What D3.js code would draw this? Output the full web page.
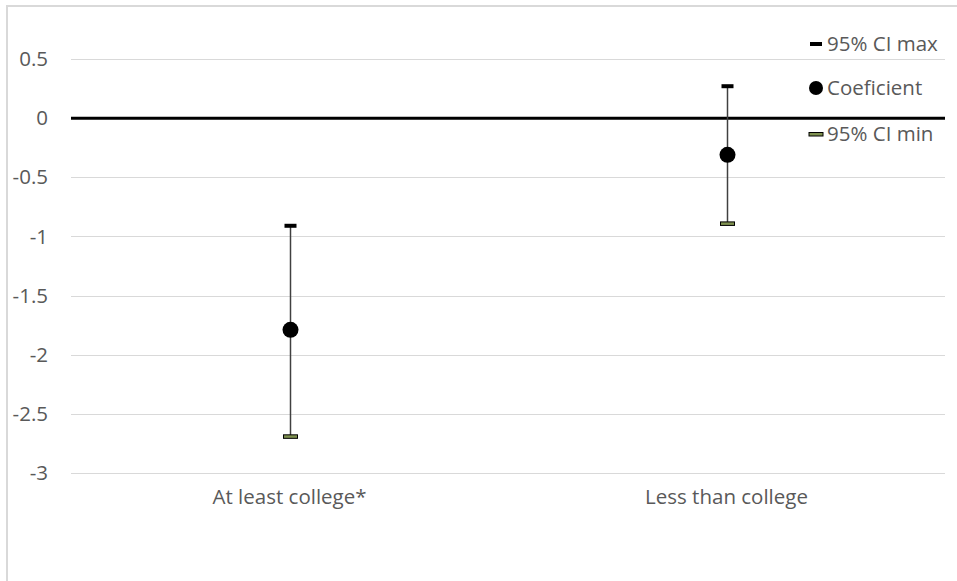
<!DOCTYPE html>
<html>
<head>
<meta charset="utf-8">
<script src="https://cdn.jsdelivr.net/npm/d3@7"></script>
<style>
  body { margin: 0; background: #fff; }
  text { font-family: "Open Sans", sans-serif; }
</style>
</head>
<body>
<div id="chart"></div>
<script>
// Data
const categories = ["At least college*", "Less than college"];
const ciMax = [-0.91, 0.27];
const coef = [-1.79, -0.31];
const ciMin = [-2.69, -0.89];
const yTicks = [0.5, 0, -0.5, -1, -1.5, -2, -2.5, -3];
const legendLabels = ["95% CI max", "Coeficient", "95% CI min"];

// Dimensions
const W = 957, H = 581;
const margin = { top: 59, right: 12, bottom: 108, left: 71 };
const width = W - margin.left - margin.right;
const fontSize = "20.5px";

const svg = d3.select("#chart")
    .append("svg")
    .attr("width", W)
    .attr("height", H);

// Chart border (runs past the right and bottom edges)
svg.append("rect")
    .attr("x", 7).attr("y", 6)
    .attr("width", 1000).attr("height", 700)
    .attr("fill", "none")
    .attr("stroke", "#d9d9d9")
    .attr("stroke-width", 2);

const g = svg.append("g")
    .attr("transform", `translate(${margin.left},${margin.top})`);

const x = d3.scaleBand()
    .domain(categories)
    .range([0, width]);

const y = d3.scaleLinear()
    .domain([-3, 0.5])
    .range([414, 0]);

// Gridlines
g.selectAll(".grid")
    .data(yTicks.filter(d => d !== 0))
    .enter()
    .append("line")
    .attr("x1", 0).attr("x2", width)
    .attr("y1", d => Math.round(y(d)) + 0.5)
    .attr("y2", d => Math.round(y(d)) + 0.5)
    .attr("stroke", "#d9d9d9")
    .attr("stroke-width", 1);

// Y tick labels
g.selectAll(".ylab")
    .data(yTicks)
    .enter()
    .append("text")
    .attr("x", -23)
    .attr("y", d => y(d))
    .attr("dy", "0.35em")
    .attr("text-anchor", "end")
    .style("font-size", fontSize)
    .style("fill", "#595959")
    .text(d => d);

// Zero line
g.append("line")
    .attr("x1", 0).attr("x2", width)
    .attr("y1", y(0)).attr("y2", y(0))
    .attr("stroke", "#000")
    .attr("stroke-width", 3);

// X category labels
g.selectAll(".xlab")
    .data(categories)
    .enter()
    .append("text")
    .attr("x", d => x(d) + x.bandwidth() / 2)
    .attr("y", y(-3) + 24)
    .attr("dy", "0.35em")
    .attr("text-anchor", "middle")
    .style("font-size", fontSize)
    .style("fill", "#595959")
    .text(d => d);

// Error bars
const cx = i => Math.round(x(categories[i]) + x.bandwidth() / 2) + 0.5;

g.selectAll(".whisker")
    .data(categories)
    .enter()
    .append("line")
    .attr("x1", (d, i) => cx(i)).attr("x2", (d, i) => cx(i))
    .attr("y1", (d, i) => y(ciMax[i]))
    .attr("y2", (d, i) => y(ciMin[i]))
    .attr("stroke", "#404040")
    .attr("stroke-width", 1.5);

// Max caps
g.selectAll(".capMax")
    .data(ciMax)
    .enter()
    .append("rect")
    .attr("x", (d, i) => cx(i) - 6)
    .attr("y", d => y(d) - 2)
    .attr("width", 12).attr("height", 4)
    .attr("fill", "#000");

// Min caps
g.selectAll(".capMin")
    .data(ciMin)
    .enter()
    .append("rect")
    .attr("x", (d, i) => cx(i) - 7)
    .attr("y", d => y(d) - 1.5)
    .attr("width", 14).attr("height", 3.5)
    .attr("fill", "#7f9150")
    .attr("stroke", "#000")
    .attr("stroke-width", 1);

// Coefficient points
g.selectAll(".pt")
    .data(coef)
    .enter()
    .append("circle")
    .attr("cx", (d, i) => cx(i))
    .attr("cy", d => y(d))
    .attr("r", 8)
    .attr("fill", "#000");

// Legend
const legend = svg.append("g");
const legY = [44, 88, 134];
legendLabels.forEach((label, i) => {
    const row = legend.append("g").attr("transform", `translate(816,${legY[i]})`);
    if (i === 0) {
        row.append("rect").attr("x", -6).attr("y", -2).attr("width", 12).attr("height", 4).attr("fill", "#000");
    } else if (i === 1) {
        row.append("circle").attr("r", 7).attr("fill", "#000");
    } else {
        row.append("rect").attr("x", -7).attr("y", -1.5).attr("width", 14).attr("height", 3.5)
            .attr("fill", "#7f9150").attr("stroke", "#000").attr("stroke-width", 1);
    }
    row.append("text")
        .attr("x", 11)
        .attr("dy", "0.35em")
        .style("font-size", fontSize)
        .style("fill", "#595959")
        .text(label);
});
</script>
</body>
</html>
